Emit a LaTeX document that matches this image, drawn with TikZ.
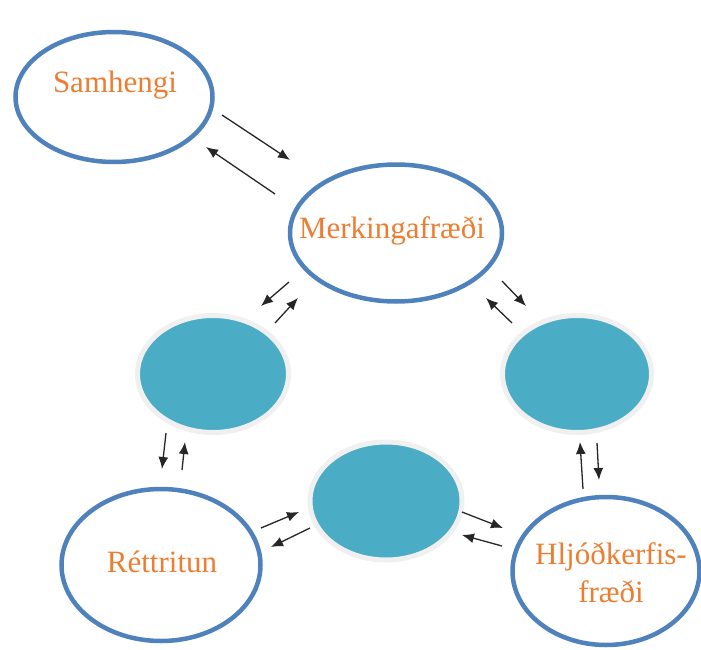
\documentclass[tikz,border=0pt]{standalone}
\usepackage{fontspec}
\setmainfont{Liberation Serif}
\usetikzlibrary{shapes.geometric,arrows.meta}
\definecolor{ringblue}{HTML}{4F81BD}
\definecolor{tealfill}{HTML}{4BACC6}
\definecolor{lblorange}{HTML}{ED7D31}
\definecolor{glowgray}{HTML}{F0F0F0}

\begin{document}
\begin{tikzpicture}[
x=1pt,
y=-1pt,
ring/.style={
  ellipse,
  draw=ringblue,
  line width=4.5pt,
  fill=white,
  inner sep=0pt
  },
blob/.style={
  ellipse,
  draw=glowgray,
  line width=5pt,
  fill=tealfill,
  inner sep=0pt
  },
lbl/.style={
  text=lblorange,
  font=\fontsize{31}{38}\selectfont,
  align=center,
  inner sep=0pt
  },
link/.style={
  -{Latex[length=12pt,width=10pt]},
  line width=1.3pt,
  black!85
  }
]
\useasboundingbox (0,0) rectangle (701,650);

% outlined circles
\node[ring, minimum width=197pt, minimum height=130pt] (sam) at (114,97) {};
\node[ring, minimum width=212pt, minimum height=137pt] (merk) at (396,233) {};
\node[ring, minimum width=199pt, minimum height=152pt] (rett) at (161,565) {};
\node[ring, minimum width=187pt, minimum height=148pt] (hljod) at (606,571) {};

\node[lbl, anchor=base] (sam-lbl) at (115,93) {Samhengi};
\node[lbl, anchor=base] (merk-lbl) at (392,238) {Merkingafræði};
\node[lbl, anchor=base] (rett-lbl) at (162,572) {Réttritun};
\node[lbl] (hljod-lbl) at (611,573) {Hljóðkerfis-\\fræði};

% filled circles
\node[blob, minimum width=151pt, minimum height=117pt] (left) at (213,374) {};
\node[blob, minimum width=149pt, minimum height=117pt] (right) at (577,374) {};
\node[blob, minimum width=152pt, minimum height=118pt] (low) at (386,501) {};

% arrow pairs
\foreach \nm/\sx/\sy/\ex/\ey in {
  a1/222/115/290/160, a2/275/194/206/147,
  b1/289/282/261/306, b2/275/323/298/298,
  c1/502/281/526/306, c2/512/323/486/298,
  d1/166/433/162/469, d2/182/470/185/442,
  e1/583/489/580/442, e2/597/443/599/480,
  f1/261/528/299/512, f2/310/528/271/547,
  g1/462/512/503/528, g2/502/546/462/535}
{
  \coordinate (\nm-s) at (\sx,\sy);
  \coordinate (\nm-e) at (\ex,\ey);
  \draw[link] (\nm-s) -- (\nm-e);
}
\end{tikzpicture}
\end{document}
